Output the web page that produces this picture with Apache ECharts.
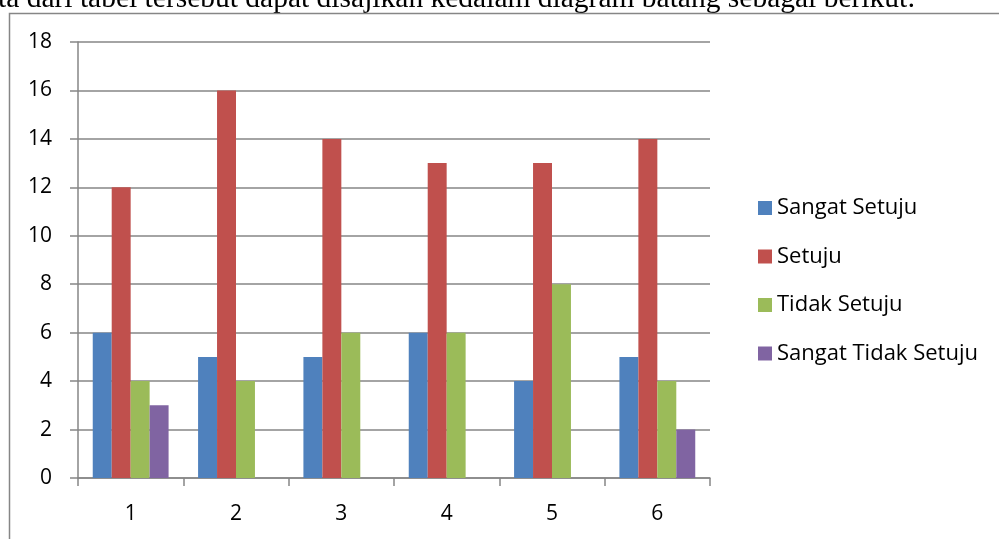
<!DOCTYPE html>
<html>
<head>
<meta charset="utf-8">
<script src="https://cdn.jsdelivr.net/npm/echarts@6/dist/echarts.min.js"></script>
<style>
  html, body { margin: 0; padding: 0; background: #ffffff; }
  #chart { width: 999px; height: 539px; }
</style>
</head>
<body>
<div id="chart"></div>
<script>
// Responses per statement (1..6), grouped by answer category
const categories = ['1', '2', '3', '4', '5', '6'];
const sangatSetuju = [6, 5, 5, 6, 4, 5];
const setuju = [12, 16, 14, 13, 13, 14];
const tidakSetuju = [4, 4, 6, 6, 8, 4];
const sangatTidakSetuju = [3, 0, 0, 0, 0, 2];
const yTicks = [0, 2, 4, 6, 8, 10, 12, 14, 16, 18];

const seriesNames = ['Sangat Setuju', 'Setuju', 'Tidak Setuju', 'Sangat Tidak Setuju'];
const seriesData = [sangatSetuju, setuju, tidakSetuju, sangatTidakSetuju];
const colors = ['#4F81BD', '#C0504D', '#9BBB59', '#8064A2'];

const labelFont = 'Open Sans, Noto Sans, sans-serif';
const gray = '#868686';

const chart = echarts.init(document.getElementById('chart'), null, { renderer: 'canvas' });

chart.setOption({
  animation: false,
  backgroundColor: '#ffffff',
  color: colors,
  graphic: [
    {
      type: 'text',
      x: -2,
      y: -16,
      style: {
        text: 'ta dari tabel tersebut dapat disajikan kedalam diagram batang sebagai berikut:',
        font: '29.5px "Liberation Serif", "Times New Roman", serif',
        fill: '#000000'
      }
    },
    {
      type: 'rect',
      shape: { x: 9.5, y: 13.5, width: 1100, height: 700 },
      style: { fill: 'none', stroke: gray, lineWidth: 1.5 }
    }
  ],
  grid: { left: 78, right: 289, top: 42, bottom: 61, containLabel: false },
  legend: {
    orient: 'vertical',
    left: 753,
    top: 192,
    itemWidth: 14,
    itemHeight: 14,
    itemGap: 26.5,
    icon: 'rect',
    textStyle: { fontFamily: labelFont, fontSize: 22, color: '#000' },
    data: seriesNames
  },
  xAxis: {
    type: 'category',
    data: categories,
    axisLine: { lineStyle: { color: gray, width: 1.5 } },
    axisTick: { show: true, length: 8, lineStyle: { color: gray, width: 1.5 } },
    axisLabel: { fontFamily: labelFont, fontSize: 21, color: '#000', margin: 26 }
  },
  yAxis: {
    type: 'value',
    min: 0,
    max: 18,
    interval: 2,
    axisLine: { show: true, lineStyle: { color: gray, width: 1.5 } },
    axisTick: { show: true, length: 8, lineStyle: { color: gray, width: 1.5 } },
    splitLine: { lineStyle: { color: gray, width: 1.5 } },
    axisLabel: {
      fontFamily: labelFont, fontSize: 21, color: '#000', margin: 26,
      formatter: v => (yTicks.indexOf(v) >= 0 ? String(v) : '')
    }
  },
  series: seriesNames.map((name, i) => ({
    name: name,
    type: 'bar',
    data: seriesData[i],
    barGap: '0%',
    barCategoryGap: '28%',
    itemStyle: { color: colors[i] }
  }))
});
</script>
</body>
</html>
